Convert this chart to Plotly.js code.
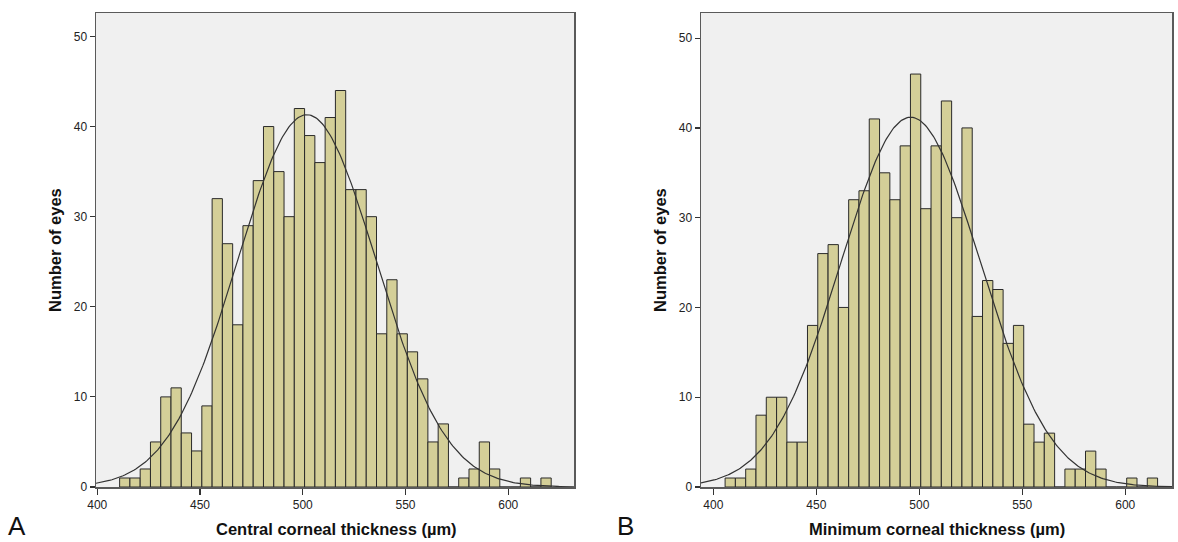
<!DOCTYPE html>
<html>
<head>
<meta charset="utf-8">
<script src="https://cdn.plot.ly/plotly-3.0.1.min.js"></script>
<style>
  html, body { margin: 0; padding: 0; background: #ffffff; }
  #chart { width: 1178px; height: 542px; }
</style>
</head>
<body>
<div id="chart"></div>
<script>
// Histogram counts per 5 µm bin (number of eyes)
const centralCounts = [1, 1, 2, 5, 10, 11, 6, 4, 9, 32, 27, 18, 29, 34, 40, 35, 30, 42, 39, 36, 41,
                       44, 33, 33, 30, 17, 23, 17, 15, 12, 5, 7, 0, 1, 2, 5, 2, 0, 0, 1, 0, 1];
const minimumCounts = [1, 1, 2, 8, 10, 10, 5, 5, 18, 26, 27, 20, 32, 33, 41, 35, 32, 38, 46, 31, 38,
                       43, 30, 40, 19, 23, 22, 16, 18, 7, 5, 6, 0, 2, 2, 4, 2, 0, 0, 1, 0, 1];

// Lower edge of the first bin and the bin width (µm)
const centralFirstEdge = 410.9;
const minimumFirstEdge = 405.7;
const binWidth = 5;

// Fitted normal curves (mean, SD in µm) and sample size
const centralMean = 502.0, centralSD = 33.8;
const minimumMean = 495.8, minimumSD = 33.9;
const eyeCount = 700;

// Axis ticks and labels
const xTicks = [400, 450, 500, 550, 600];
const yTicks = [0, 10, 20, 30, 40, 50];
const xTitleA = 'Central corneal thickness (µm)';
const xTitleB = 'Minimum corneal thickness (µm)';
const yTitle = 'Number of eyes';
const panelLabels = ['A', 'B'];

const W = 1178, H = 542;
const px = x => x / W;
const py = y => (H - y) / H;

function binCenters(firstEdge, n) {
  const out = [];
  for (let i = 0; i < n; i++) out.push(firstEdge + binWidth * (i + 0.5));
  return out;
}

function normalCurve(mean, sd, lo, hi) {
  const xs = [], ys = [];
  const steps = 300;
  const scale = eyeCount * binWidth / (sd * Math.sqrt(2 * Math.PI));
  for (let i = 0; i <= steps; i++) {
    const x = lo + (hi - lo) * i / steps;
    const z = (x - mean) / sd;
    xs.push(x);
    ys.push(scale * Math.exp(-0.5 * z * z));
  }
  return { xs, ys };
}

const rangeA = [399.4, 632.0];
const rangeB = [394.0, 622.7];

const barFill = '#d4cf98';
const barEdge = '#2a2a2a';

const curveA = normalCurve(centralMean, centralSD, rangeA[0], rangeA[1]);
const curveB = normalCurve(minimumMean, minimumSD, rangeB[0], rangeB[1]);

const traces = [
  {
    type: 'bar', x: binCenters(centralFirstEdge, centralCounts.length), y: centralCounts,
    width: binWidth, xaxis: 'x', yaxis: 'y',
    marker: { color: barFill, line: { color: barEdge, width: 1 } },
    hoverinfo: 'x+y'
  },
  {
    type: 'scatter', mode: 'lines', x: curveA.xs, y: curveA.ys, xaxis: 'x', yaxis: 'y',
    line: { color: '#333333', width: 1.2 }, hoverinfo: 'skip'
  },
  {
    type: 'bar', x: binCenters(minimumFirstEdge, minimumCounts.length), y: minimumCounts,
    width: binWidth, xaxis: 'x2', yaxis: 'y2',
    marker: { color: barFill, line: { color: barEdge, width: 1 } },
    hoverinfo: 'x+y'
  },
  {
    type: 'scatter', mode: 'lines', x: curveB.xs, y: curveB.ys, xaxis: 'x2', yaxis: 'y2',
    line: { color: '#333333', width: 1.2 }, hoverinfo: 'skip'
  }
];

const tickFont = { family: 'Liberation Sans, Arial, sans-serif', size: 12, color: '#222222' };
const titleFont = { family: 'Liberation Sans, Arial, sans-serif', size: 16.5, color: '#111111', weight: 'bold' };

function xAxis(domain, range) {
  return {
    domain, range, tickmode: 'array', tickvals: xTicks, ticktext: xTicks.map(String),
    ticks: 'outside', ticklen: 6, tickwidth: 1.2, tickcolor: '#333333',
    showline: true, mirror: true, linecolor: '#5a5a5a', linewidth: 1.5,
    showgrid: false, zeroline: false, tickfont: tickFont, fixedrange: true
  };
}
function yAxis(domain, range, anchor) {
  return {
    domain, range, anchor, tickmode: 'array', tickvals: yTicks, ticktext: yTicks.map(String),
    ticks: 'outside', ticklen: 5, tickwidth: 1.2, tickcolor: '#333333',
    showline: true, mirror: true, linecolor: '#5a5a5a', linewidth: 1.5,
    showgrid: false, zeroline: false, tickfont: tickFont, fixedrange: true
  };
}

const yDomain = [py(487), py(13)];

const layout = {
  width: W, height: H,
  margin: { l: 0, r: 0, t: 0, b: 0 },
  paper_bgcolor: '#ffffff', plot_bgcolor: '#f0f0f0',
  showlegend: false, bargap: 0,
  xaxis: Object.assign(xAxis([px(96), px(574)], rangeA), { anchor: 'y' }),
  yaxis: yAxis(yDomain, [0, 52.6], 'x'),
  xaxis2: Object.assign(xAxis([px(701), px(1172)], rangeB), { anchor: 'y2' }),
  yaxis2: yAxis(yDomain, [0, 52.8], 'x2'),
  annotations: [
    { text: yTitle, x: px(55), y: py(250), xref: 'paper', yref: 'paper', textangle: -90,
      showarrow: false, font: titleFont, xanchor: 'center', yanchor: 'middle' },
    { text: yTitle, x: px(660), y: py(250), xref: 'paper', yref: 'paper', textangle: -90,
      showarrow: false, font: titleFont, xanchor: 'center', yanchor: 'middle' },
    { text: xTitleA, x: px(336), y: py(529), xref: 'paper', yref: 'paper',
      showarrow: false, font: titleFont, xanchor: 'center', yanchor: 'middle' },
    { text: xTitleB, x: px(937), y: py(529), xref: 'paper', yref: 'paper',
      showarrow: false, font: titleFont, xanchor: 'center', yanchor: 'middle' },
    { text: panelLabels[0], x: px(17), y: py(526), xref: 'paper', yref: 'paper',
      showarrow: false, font: { family: 'Liberation Sans, Arial, sans-serif', size: 26, color: '#111111' },
      xanchor: 'center', yanchor: 'middle' },
    { text: panelLabels[1], x: px(625), y: py(526), xref: 'paper', yref: 'paper',
      showarrow: false, font: { family: 'Liberation Sans, Arial, sans-serif', size: 26, color: '#111111' },
      xanchor: 'center', yanchor: 'middle' }
  ]
};

Plotly.newPlot('chart', traces, layout, { displayModeBar: false, staticPlot: true });
</script>
</body>
</html>
